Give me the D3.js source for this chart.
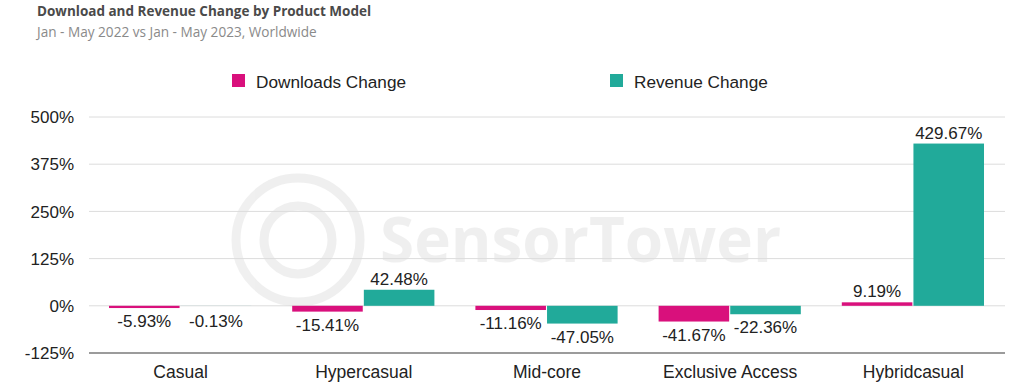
<!DOCTYPE html>
<html lang="en">
<head>
  <meta charset="utf-8">
  <title>Download and Revenue Change by Product Model</title>
  <script src="https://d3js.org/d3.v7.min.js"></script>
  <style>
    body { margin: 0; background: #fff; }
    svg { display: block; }
  </style>
</head>
<body>
  <svg width="1024" height="386"></svg>
  <script>
    const categories = ["Casual", "Hypercasual", "Mid-core", "Exclusive Access", "Hybridcasual"];
    const downloadsChange = [-5.93, -15.41, -11.16, -41.67, 9.19];
    const revenueChange = [-0.13, 42.48, -47.05, -22.36, 429.67];
    const seriesNames = ["Downloads Change", "Revenue Change"];
    const yTicks = [-125, 0, 125, 250, 375, 500];

    const colors = ["#d9107c", "#21aa9a"];
    const svg = d3.select("svg");
    const pct = v => v.toFixed(2) + "%";

    // header
    svg.append("text")
      .attr("x", 37).attr("y", 16)
      .attr("font-family", "Open Sans").attr("font-weight", 700)
      .attr("font-size", 13.5).attr("fill", "#4a4a4a")
      .text("Download and Revenue Change by Product Model");
    svg.append("text")
      .attr("x", 37).attr("y", 37)
      .attr("font-family", "Open Sans")
      .attr("font-size", 13.6).attr("fill", "#8a8a8a")
      .text("Jan - May 2022 vs Jan - May 2023, Worldwide");

    const left = 89, right = 1005;
    const y = d3.scaleLinear().domain([-125, 500]).range([353, 117]);
    const x0 = d3.scaleBand().domain(categories).range([left, right]).paddingInner(0).paddingOuter(0);
    const x1 = d3.scaleBand().domain(seriesNames).range([20, x0.bandwidth() - 21]).paddingInner(0.015);

    // watermark
    const wm = svg.append("g").attr("opacity", 0.06);
    wm.append("circle").attr("cx", 298).attr("cy", 240).attr("r", 62)
      .attr("fill", "none").attr("stroke", "#000").attr("stroke-width", 9);
    wm.append("circle").attr("cx", 298).attr("cy", 240).attr("r", 34)
      .attr("fill", "none").attr("stroke", "#000").attr("stroke-width", 9);
    wm.append("text").attr("x", 380).attr("y", 262)
      .attr("font-family", "Open Sans").attr("font-size", 62).attr("font-weight", 700)
      .attr("fill", "#000").text("SensorTower");

    // grid + y labels
    const grid = svg.append("g");
    grid.selectAll("line").data(yTicks).join("line")
      .attr("x1", left).attr("x2", right)
      .attr("y1", d => y(d)).attr("y2", d => y(d))
      .attr("stroke", d => d === -125 ? "#7a7a7a" : "#dcdcdc")
      .attr("stroke-width", d => d === -125 ? 1.5 : 1);
    grid.selectAll("text").data(yTicks).join("text")
      .attr("x", 74).attr("y", d => y(d)).attr("dy", "0.36em")
      .attr("text-anchor", "end")
      .attr("font-family", "Liberation Sans").attr("font-size", 17).attr("fill", "#222")
      .text(d => d + "%");

    // bars
    const rows = categories.map((c, i) => ({
      cat: c,
      vals: [downloadsChange[i], revenueChange[i]]
    }));
    const groups = svg.append("g").selectAll("g").data(rows).join("g")
      .attr("transform", d => `translate(${x0(d.cat)},0)`);
    const cells = groups.selectAll("g").data(d => d.vals.map((v, k) => ({ v, k }))).join("g");
    cells.append("rect")
      .attr("x", d => x1(seriesNames[d.k]))
      .attr("width", x1.bandwidth())
      .attr("y", d => y(Math.max(0, d.v)))
      .attr("height", d => Math.abs(y(d.v) - y(0)))
      .attr("fill", d => colors[d.k]);
    cells.append("text")
      .attr("x", d => x1(seriesNames[d.k]) + x1.bandwidth() / 2)
      .attr("y", d => d.v >= 0 ? y(d.v) - 5 : Math.max(y(d.v), y(0) + 2.5) + 19)
      .attr("text-anchor", "middle")
      .attr("font-family", "Liberation Sans").attr("font-size", 17).attr("fill", "#222")
      .text(d => pct(d.v));

    // x labels
    svg.append("g").selectAll("text").data(categories).join("text")
      .attr("x", d => x0(d) + x0.bandwidth() / 2).attr("y", 378)
      .attr("text-anchor", "middle")
      .attr("font-family", "Liberation Sans").attr("font-size", 17.5).attr("fill", "#222")
      .text(d => d);

    // legend
    const legendX = [232, 610];
    const lg = svg.append("g").selectAll("g").data(seriesNames).join("g")
      .attr("transform", (d, i) => `translate(${legendX[i]},74)`);
    lg.append("rect").attr("width", 13).attr("height", 13).attr("fill", (d, i) => colors[i]);
    lg.append("text").attr("x", 24).attr("y", 8).attr("dy", "0.36em")
      .attr("font-family", "Liberation Sans").attr("font-size", 17.2).attr("fill", "#222")
      .text(d => d);
  </script>
</body>
</html>
